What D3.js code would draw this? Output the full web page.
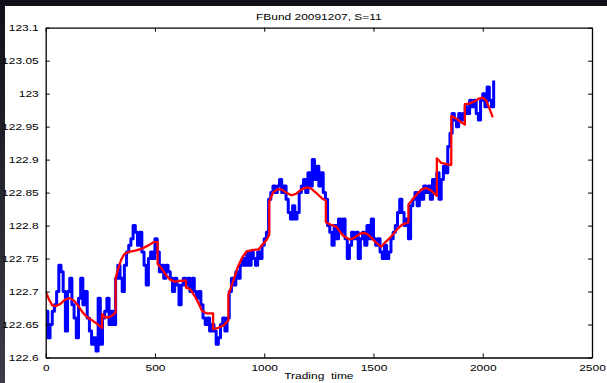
<!DOCTYPE html>
<html>
<head>
<meta charset="utf-8">
<script src="https://cdn.jsdelivr.net/npm/d3@7/dist/d3.min.js"></script>
<style>
  html, body { margin: 0; padding: 0; background: #fff; }
  svg { display: block; }
  text { font-family: "Liberation Sans", Arial, Helvetica, sans-serif; fill: #000; }
</style>
</head>
<body>
<svg id="chart" width="607" height="383"></svg>
<script>
// FBund futures price on 2009-12-07 against trading time, with the S=11 smoothed fit.

const chartTitle = "FBund 20091207, S=11";
const xAxisLabel = "Trading  time";

const xTickValues = [0, 500, 1000, 1500, 2000, 2500];
const xTickLabels = ["0", "500", "1000", "1500", "2000", "2500"];
const yTickValues = [122.6, 122.65, 122.7, 122.75, 122.8, 122.85, 122.9, 122.95, 123, 123.05, 123.1];
const yTickLabels = ["122.6", "122.65", "122.7", "122.75", "122.8", "122.85", "122.9", "122.95", "123", "123.05", "123.1"];

// Traded price, one reading every 10 units of trading time starting at 0.
const priceStart = 0;
const priceStep = 10;
const priceValues = [
  122.67, 122.63, 122.65, 122.67, 122.68, 122.70, 122.74, 122.73, 122.70, 122.64,
  122.70, 122.72, 122.68, 122.66, 122.63, 122.69, 122.72, 122.68, 122.70, 122.66,
  122.64, 122.62, 122.63, 122.61, 122.69, 122.62, 122.66, 122.67, 122.69, 122.65,
  122.67, 122.65, 122.72, 122.74, 122.72, 122.70, 122.74, 122.76, 122.77, 122.78,
  122.80, 122.79, 122.77, 122.79, 122.76, 122.74, 122.71, 122.75, 122.76, 122.75,
  122.78, 122.76, 122.73, 122.74, 122.72, 122.74, 122.73, 122.72, 122.70, 122.72,
  122.71, 122.68, 122.71, 122.72, 122.71, 122.72, 122.70, 122.72, 122.70, 122.69,
  122.70, 122.68, 122.66, 122.65, 122.66, 122.64, 122.65, 122.64, 122.62, 122.63,
  122.65, 122.66, 122.64, 122.66, 122.70, 122.72, 122.71, 122.73, 122.72, 122.74,
  122.75, 122.74, 122.76, 122.74, 122.76, 122.75, 122.74, 122.76, 122.75, 122.77,
  122.78, 122.79, 122.84, 122.85, 122.86, 122.85, 122.86, 122.87, 122.85, 122.86,
  122.84, 122.82, 122.81, 122.83, 122.81, 122.82, 122.85, 122.86, 122.87, 122.85,
  122.88, 122.86, 122.90, 122.87, 122.89, 122.86, 122.88, 122.85, 122.84, 122.80,
  122.79, 122.77, 122.80, 122.78, 122.81, 122.79, 122.81, 122.78, 122.75, 122.77,
  122.79, 122.78, 122.79, 122.75, 122.78, 122.79, 122.77, 122.80, 122.78, 122.81,
  122.78, 122.77, 122.78, 122.76, 122.75, 122.77, 122.75, 122.76, 122.78, 122.79,
  122.80, 122.82, 122.84, 122.82, 122.80, 122.81, 122.78, 122.83, 122.84, 122.85,
  122.83, 122.85, 122.84, 122.86, 122.85, 122.86, 122.84, 122.87, 122.85, 122.88,
  122.84, 122.87, 122.89, 122.88, 122.92, 122.94, 122.97, 122.96, 122.95, 122.97,
  122.96, 122.97, 122.98, 122.97, 122.99, 122.98, 122.99, 122.97, 122.96, 122.99,
  123.00, 122.98, 123.01, 122.99, 122.98, 123.02
];

// Smoothed fit: trading time and level; repeated times mark the jumps between pieces.
const fitTimes = [
  0, 15, 30, 48, 70, 90, 110, 130, 150, 170, 190, 210, 235, 258,
  258, 270, 290, 305, 320,
  320, 330, 345, 360, 380, 410, 440, 470, 495, 512,
  512, 530, 550, 570, 590, 615, 642,
  642, 660, 680, 700, 715, 735, 766,
  766, 790, 815, 836,
  836, 860, 880, 900, 920, 950, 975, 995, 1010, 1023,
  1023, 1040, 1060, 1080, 1100, 1125, 1145, 1170, 1195, 1215, 1240, 1265, 1282,
  1282, 1300, 1330, 1360, 1390, 1410, 1440, 1460, 1480, 1510, 1535, 1555, 1580, 1610, 1630, 1660,
  1660, 1680, 1700, 1720, 1740, 1760, 1790,
  1790, 1810, 1835, 1856,
  1856, 1880, 1900, 1918,
  1918, 1940, 1965, 1985, 2000, 2015, 2030, 2046
];
const fitValues = [
  122.700, 122.688, 122.679, 122.678, 122.682, 122.688, 122.690, 122.686, 122.678, 122.668, 122.661, 122.657, 122.651, 122.645,
  122.666, 122.661, 122.661, 122.664, 122.668,
  122.720, 122.733, 122.748, 122.757, 122.760, 122.762, 122.765, 122.770, 122.775, 122.775,
  122.742, 122.735, 122.725, 122.718, 122.715, 122.716, 122.717,
  122.706, 122.704, 122.694, 122.682, 122.671, 122.667, 122.667,
  122.643, 122.645, 122.649, 122.656,
  122.695, 122.718, 122.738, 122.752, 122.761, 122.763, 122.764, 122.772, 122.778, 122.786,
  122.836, 122.850, 122.855, 122.855, 122.850, 122.846, 122.848, 122.855, 122.858, 122.856, 122.849, 122.841, 122.838,
  122.805, 122.802, 122.798, 122.785, 122.779, 122.781, 122.788, 122.789, 122.785, 122.775, 122.768, 122.775, 122.783, 122.795, 122.801, 122.805,
  122.832, 122.840, 122.848, 122.855, 122.857, 122.854, 122.845,
  122.902, 122.895, 122.893, 122.892,
  122.966, 122.962, 122.957, 122.953,
  122.984, 122.985, 122.989, 122.993, 122.994, 122.990, 122.978, 122.964
];

const W = 607, H = 383;
const plot = { left: 45.7, right: 592, top: 27.7, bottom: 357.5 };
const textScaleX = 1.33;
const fontSize = 9;

const svg = d3.select("#chart");

// Dark frame along the top and left edges of the figure
const defs = svg.append("defs");
const grad = defs.append("linearGradient").attr("id", "frameShade")
  .attr("x1", 0).attr("y1", 0).attr("x2", 0).attr("y2", 1);
grad.append("stop").attr("offset", "0%").attr("stop-color", "#101019");
grad.append("stop").attr("offset", "100%").attr("stop-color", "#3c3c48");
svg.append("rect").attr("width", W).attr("height", H).attr("fill", "url(#frameShade)");
svg.append("rect").attr("x", 5).attr("y", 6).attr("width", W - 5).attr("height", H - 6).attr("fill", "#fff");

const x = d3.scaleLinear().domain([0, 2500]).range([plot.left, plot.right]);
const y = d3.scaleLinear().domain([122.6, 123.1]).range([plot.bottom, plot.top]);

const clipId = "plotClip";
defs.append("clipPath").attr("id", clipId).append("rect")
  .attr("x", plot.left).attr("y", plot.top)
  .attr("width", plot.right - plot.left).attr("height", plot.bottom - plot.top);

// Price series (blue)
const priceData = priceValues.map((v, i) => ({ t: priceStart + i * priceStep, v }));
svg.append("path")
  .datum(priceData)
  .attr("clip-path", `url(#${clipId})`)
  .attr("fill", "none")
  .attr("stroke", "#0000ff")
  .attr("stroke-width", 3)
  .attr("stroke-linejoin", "round")
  .attr("d", d3.line().x(d => x(d.t)).y(d => y(d.v)).curve(d3.curveStepAfter));

// Smoothed fit (red)
const fitData = fitTimes.map((t, i) => ({ t, v: fitValues[i] }));
svg.append("path")
  .datum(fitData)
  .attr("clip-path", `url(#${clipId})`)
  .attr("fill", "none")
  .attr("stroke", "#ff0000")
  .attr("stroke-width", 2.3)
  .attr("stroke-linejoin", "round")
  .attr("d", d3.line().x(d => x(d.t)).y(d => y(d.v)));

// Axes: ticks point inward on all four sides
const tickLen = 4;
const bottomAxis = d3.axisBottom(x).tickValues(xTickValues)
  .tickFormat((d, i) => xTickLabels[i]).tickSizeInner(-tickLen).tickSizeOuter(0).tickPadding(7);
const topAxis = d3.axisTop(x).tickValues(xTickValues)
  .tickFormat("").tickSizeInner(-tickLen).tickSizeOuter(0);
const leftAxis = d3.axisLeft(y).tickValues(yTickValues)
  .tickFormat((d, i) => yTickLabels[i]).tickSizeInner(-tickLen).tickSizeOuter(0).tickPadding(7);
const rightAxis = d3.axisRight(y).tickValues(yTickValues)
  .tickFormat("").tickSizeInner(-tickLen).tickSizeOuter(0);

function styleAxis(g) {
  g.select(".domain").attr("stroke", "#000").attr("stroke-width", 1.3);
  g.selectAll(".tick line").attr("stroke", "#000").attr("stroke-width", 1);
  g.selectAll(".tick text")
    .attr("font-size", fontSize)
    .attr("font-family", "Liberation Sans, Arial, sans-serif")
    .attr("fill", "#000");
}

const gB = svg.append("g").attr("transform", `translate(0,${plot.bottom})`).call(bottomAxis).call(styleAxis);
const gT = svg.append("g").attr("transform", `translate(0,${plot.top})`).call(topAxis).call(styleAxis);
const gL = svg.append("g").attr("transform", `translate(${plot.left},0)`).call(leftAxis).call(styleAxis);
const gR = svg.append("g").attr("transform", `translate(${plot.right},0)`).call(rightAxis).call(styleAxis);

// Widen the tick labels horizontally to the figure's stretched lettering
gB.selectAll(".tick text").each(function () {
  const t = d3.select(this);
  const yy = +t.attr("y");
  t.attr("y", null).attr("dy", "0.71em")
    .attr("transform", `translate(0,${yy}) scale(${textScaleX},1)`);
});
gL.selectAll(".tick text").each(function () {
  const t = d3.select(this);
  const xx = +t.attr("x");
  t.attr("x", null)
    .attr("transform", `translate(${xx},0) scale(${textScaleX},1)`);
});

// Title and axis label
const cx = (plot.left + plot.right) / 2;
svg.append("text")
  .attr("transform", `translate(${cx},19.5) scale(${textScaleX},1)`)
  .attr("text-anchor", "middle")
  .attr("font-size", fontSize)
  .text(chartTitle);
svg.append("text")
  .attr("transform", `translate(${cx},379) scale(${textScaleX},1)`)
  .attr("text-anchor", "middle")
  .attr("font-size", fontSize)
  .attr("xml:space", "preserve")
  .style("white-space", "pre")
  .text(xAxisLabel);
</script>
</body>
</html>
